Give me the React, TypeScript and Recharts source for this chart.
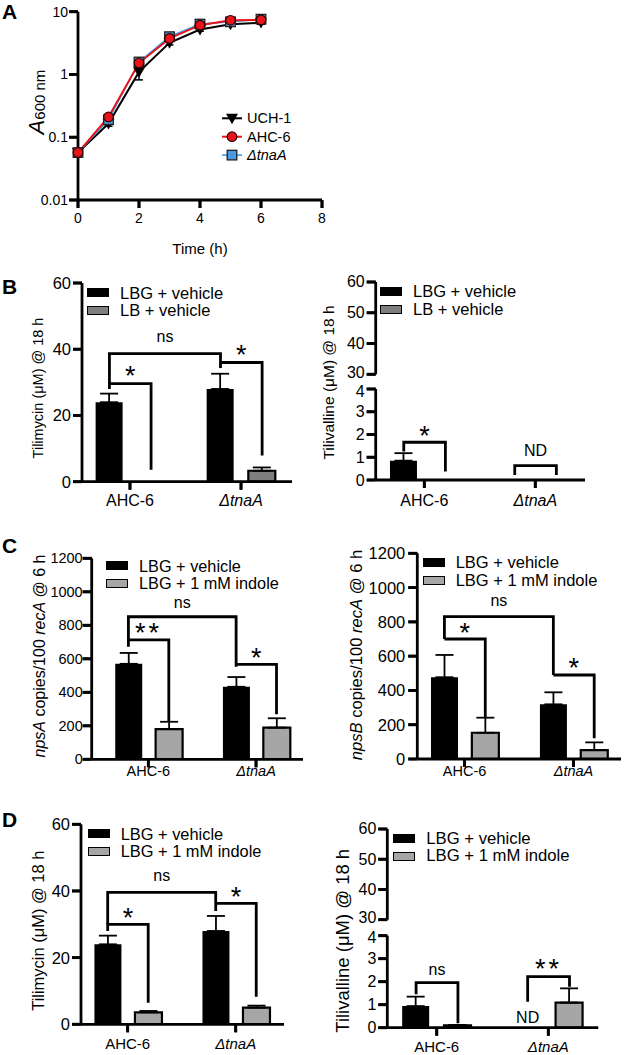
import React from "react";
import {ComposedChart, Line, Bar, ErrorBar, XAxis, YAxis, Legend, ReferenceDot} from "recharts";

const FONT = '"Liberation Sans", Arial, Helvetica, sans-serif';

// ---------- A: growth curves ----------
const hours = [0, 1, 2, 3, 4, 5, 6];
const uch1 = [0.057, 0.165, 1.1, 3.2, 5.2, 6.3, 6.7];
const uch1Err = [0.003, 0.015, 0.28, 0.25, 0.3, 0.4, 0.4];
const ahc6 = [0.057, 0.21, 1.52, 3.75, 6.1, 7.3, 7.4];
const ahc6Err = [0.003, 0.015, 0.12, 0.2, 0.3, 0.3, 0.3];
const tnaA = [0.057, 0.19, 1.58, 4.0, 6.35, 6.9, 7.6];
const tnaAErr = [0.003, 0.01, 0.1, 0.2, 0.2, 0.3, 0.3];

const strains = ["AHC-6", "ΔtnaA"];

// ---------- B ----------
const bTilimycinLBG = [24, 28];
const bTilimycinLBGErr = [2.6, 4.6];
const bTilimycinLB = [0, 3.3];
const bTilimycinLBErr = [null, 1.0];
const bTilivallineLBG = [0.85, 0];
const bTilivallineLBGErr = [0.33, null];
const bTilivallineLB = [0, 0];
const bTilivallineLBErr = [null, null];

// ---------- C ----------
const cNpsAVehicle = [570, 433];
const cNpsAVehicleErr = [65, 58];
const cNpsAIndole = [180, 189];
const cNpsAIndoleErr = [44, 56];
const cNpsBVehicle = [477, 319];
const cNpsBVehicleErr = [130, 70];
const cNpsBIndole = [153, 52];
const cNpsBIndoleErr = [88, 45];

// ---------- D ----------
const dTilimycinVehicle = [24, 28];
const dTilimycinVehicleErr = [2.6, 4.5];
const dTilimycinIndole = [3.6, 5.0];
const dTilimycinIndoleErr = [0.4, 0.6];
const dTilivallineVehicle = [0.94, 0];
const dTilivallineVehicleErr = [0.41, null];
const dTilivallineIndole = [0.1, 1.09];
const dTilivallineIndoleErr = [0.02, 0.62];

const legendB = ["LBG + vehicle", "LB + vehicle"];
const legendCD = ["LBG + vehicle", "LBG + 1 mM indole"];

type Side = "k" | "g";
const K_OFF = -0.185;
const G_OFF = 0.19;
const bx = (cat: number, s: Side) => cat + 1 + (s === "k" ? K_OFF : G_OFF);
const mid = (a: number, b: number) => (a + b) / 2;

interface Bracket { x1: number; x2: number; y1: number; top: number; y2: number }
interface Note { x: number; y: number; text: string }

const bracketsBL: Bracket[] = [
  {x1: bx(0, "k"), x2: bx(0, "g"), y1: 28, top: 29.6, y2: 3.6},
  {x1: bx(0, "k"), x2: bx(1, "k"), y1: 29.6, top: 38.7, y2: 34.3},
  {x1: bx(1, "k"), x2: bx(1, "g"), y1: 36, top: 36, y2: 7.9},
];
const notesBL: Note[] = [
  {x: mid(bx(0, "k"), bx(0, "g")), y: 33.8, text: "*"},
  {x: mid(bx(0, "k"), bx(1, "k")), y: 43.5, text: "ns"},
  {x: mid(bx(1, "k"), bx(1, "g")), y: 40, text: "*"},
];
const bracketsBR: Bracket[] = [
  {x1: bx(0, "k"), x2: bx(0, "g"), y1: 1.25, top: 1.66, y2: 0.37},
  {x1: bx(1, "k"), x2: bx(1, "g"), y1: 0.22, top: 0.63, y2: 0.22},
];
const notesBR: Note[] = [
  {x: mid(bx(0, "k"), bx(0, "g")), y: 2.2, text: "*"},
  {x: mid(bx(1, "k"), bx(1, "g")), y: 1.29, text: "ND"},
];
const bracketsCL: Bracket[] = [
  {x1: bx(0, "k"), x2: bx(0, "g"), y1: 672, top: 713, y2: 224},
  {x1: bx(0, "k"), x2: bx(1, "k"), y1: 713, top: 851, y2: 553},
  {x1: bx(1, "k"), x2: bx(1, "g"), y1: 567, top: 567, y2: 269},
];
const notesCL: Note[] = [
  {x: mid(bx(0, "k"), bx(0, "g")), y: 792, text: "**"},
  {x: mid(bx(0, "k"), bx(1, "k")), y: 931, text: "ns"},
  {x: mid(bx(1, "k"), bx(1, "g")), y: 642, text: "*"},
];
const bracketsCR: Bracket[] = [
  {x1: bx(0, "k"), x2: bx(0, "g"), y1: 700, top: 700, y2: 237},
  {x1: bx(0, "k"), x2: bx(1, "k"), y1: 700, top: 830, y2: 490},
  {x1: bx(1, "k"), x2: bx(1, "g"), y1: 490, top: 490, y2: 121},
];
const notesCR: Note[] = [
  {x: mid(bx(0, "k"), bx(0, "g")), y: 772, text: "*"},
  {x: mid(bx(0, "k"), bx(1, "k")), y: 918, text: "ns"},
  {x: mid(bx(1, "k"), bx(1, "g")), y: 568, text: "*"},
];
const bracketsDL: Bracket[] = [
  {x1: bx(0, "k"), x2: bx(0, "g"), y1: 28, top: 30, y2: 6.5},
  {x1: bx(0, "k"), x2: bx(1, "k"), y1: 30, top: 39.6, y2: 34},
  {x1: bx(1, "k"), x2: bx(1, "g"), y1: 36.3, top: 36.3, y2: 8.3},
];
const notesDL: Note[] = [
  {x: mid(bx(0, "k"), bx(0, "g")), y: 33.6, text: "*"},
  {x: mid(bx(0, "k"), bx(1, "k")), y: 44.3, text: "ns"},
  {x: mid(bx(1, "k"), bx(1, "g")), y: 40, text: "*"},
];
const bracketsDR: Bracket[] = [
  {x1: bx(0, "k"), x2: bx(0, "g"), y1: 1.45, top: 1.96, y2: 0.19},
  {x1: bx(1, "k"), x2: bx(1, "g"), y1: 1.13, top: 2.22, y2: 1.78},
];
const notesDR: Note[] = [
  {x: mid(bx(0, "k"), bx(0, "g")), y: 2.5, text: "ns"},
  {x: mid(bx(1, "k"), bx(1, "g")), y: 2.83, text: "**"},
  {x: bx(1, "k"), y: 0.45, text: "ND"},
];

const AXIS = {stroke: "#000", strokeWidth: 2.8};
const Y_TICK = 9;
const X_TICK = 8;

type Part = {t: string; i?: boolean};
const labTilimycin: Part[] = [{t: "Tilimycin (μM) @ 18 h"}];
const labTilivalline: Part[] = [{t: "Tilivalline (μM) @ 18 h"}];
const labNpsA: Part[] = [{t: "npsA", i: true}, {t: " copies/100 "}, {t: "recA", i: true}, {t: " @ 6 h"}];
const labNpsB: Part[] = [{t: "npsB", i: true}, {t: " copies/100 "}, {t: "recA", i: true}, {t: " @ 6 h"}];

const vLabel = (parts: Part[], cx: number, cy: number, size: number) => () => (
  <text transform={`rotate(-90 ${cx} ${cy})`} x={cx} y={cy} textAnchor="middle" dominantBaseline="central"
        fontSize={size} fontFamily={FONT} fill="#000">
    {parts.map((p, i) => <tspan key={i} fontStyle={p.i ? "italic" : "normal"}>{p.t}</tspan>)}
  </text>
);

const noteLabel = (text: string) => (props: any) => {
  const vb = props.viewBox || {x: 0, y: 0, width: 0, height: 0};
  const cx = vb.x + (vb.width || 0) / 2;
  const cy = vb.y + (vb.height || 0) / 2;
  const star = text.includes("*");
  const size = star ? 27 : 16;
  const dy = star ? size * 0.56 : text === "ND" ? size * 0.36 : size * 0.27;
  return (
    <text x={cx} y={cy + dy} textAnchor="middle" fontSize={size} fontFamily={FONT} fill="#000"
          letterSpacing={star && text.length > 1 ? 3 : 0}>{text}</text>
  );
};

// y tick: tick mark + number, drawn against the known axis position
const YTick = (props: any) => {
  const {y, payload, axisX, fsize, gap, nudgeAt, nudge} = props;
  const ty = payload.value === nudgeAt ? y + (nudge || 0) : y;
  return (
    <g>
      <line x1={axisX - Y_TICK} x2={axisX} y1={y} y2={y} stroke="#000" strokeWidth={2.8}/>
      <text x={axisX - Y_TICK - gap} y={ty} textAnchor="end" dominantBaseline="central"
            fontSize={fsize} fontFamily={FONT} fill="#000">{String(payload.value)}</text>
    </g>
  );
};

// x tick: tick mark + label (category names or numbers)
const XTick = (props: any) => {
  const {x, payload, axisY, fsize, shift, names} = props;
  const name = names ? names[Math.round(payload.value) - 1] : String(payload.value);
  return (
    <g>
      <line x1={x} x2={x} y1={axisY} y2={axisY + X_TICK} stroke="#000" strokeWidth={2.8}/>
      <text x={x} y={axisY + X_TICK + shift} textAnchor="middle" dominantBaseline="central"
            fontSize={fsize} fontFamily={FONT} fill="#000"
            fontStyle={name && name.startsWith("Δ") ? "italic" : "normal"}>{name}</text>
    </g>
  );
};

const SwatchLegend = ({labels, gray, size}: {labels: string[]; gray: string; size: number}) => (
  <div style={{fontFamily: FONT, fontSize: size, color: "#000", whiteSpace: "nowrap"}}>
    {labels.map((l, i) => (
      <div key={i} style={{display: "flex", alignItems: "center", height: 17.8}}>
        <span style={{display: "inline-block", width: 22, height: 9, background: i === 0 ? "#000" : gray,
          border: "1.8px solid #000", boxSizing: "border-box", marginRight: 11}}/>
        <span>{l}</span>
      </div>
    ))}
  </div>
);

const rowsFor = (k: (number | null)[], kErr: (number | null)[], g: (number | null)[], gErr: (number | null)[]) =>
  strains.flatMap((_, i) => [
    {x: bx(i, "k"), k: k[i], kErr: kErr[i] == null ? undefined : [0, kErr[i]]},
    {x: bx(i, "g"), g: g[i], gErr: gErr[i] == null ? undefined : [0, gErr[i]]},
  ]);

interface PanelProps {
  x0: number; boxTop: number; axisX: number; right: number; plotTop: number; plotBottom: number;
  xDomain: [number, number]; yDomain: [number, number]; yTicks: number[];
  k: (number | null)[]; kErr: (number | null)[]; g: (number | null)[]; gErr: (number | null)[];
  gray: string; brackets: Bracket[]; notes: Note[];
  legend: string[]; legendAt: [number, number]; legendSize: number;
  label: Part[]; labelAt: [number, number]; labelSize: number;
  tickSize: number; tickGap: number; catSize: number; catShift: number;
  topNudge?: number;
}

const BarPanel = (p: PanelProps) => {
  const rows = rowsFor(p.k, p.kErr, p.g, p.gErr);
  const width = p.right + 4 - p.x0;
  const xAxisH = 40;
  const height = p.plotBottom + xAxisH - p.boxTop;
  return (
    <div style={{position: "absolute", left: p.x0, top: p.boxTop}}>
      <ComposedChart width={width} height={height} data={rows}
                     margin={{top: p.plotTop - p.boxTop, right: 4, bottom: 0, left: 0}}>
        <XAxis type="number" dataKey="x" domain={p.xDomain} ticks={[1, 2]} interval={0} allowDataOverflow
               height={xAxisH} axisLine={AXIS} tickLine={AXIS} tickSize={X_TICK}
               tick={<XTick axisY={p.plotBottom - p.boxTop} fsize={p.catSize} shift={p.catShift} names={strains}/>}/>
        <YAxis type="number" domain={p.yDomain} ticks={p.yTicks} interval={0} allowDataOverflow width={p.axisX - p.x0}
               axisLine={AXIS} tickLine={AXIS} tickSize={Y_TICK}
               tick={<YTick axisX={p.axisX - p.x0} fsize={p.tickSize} gap={p.tickGap}
                            nudgeAt={p.yDomain[1]} nudge={p.topNudge || 0}/>}
               label={vLabel(p.label, p.labelAt[0] - p.x0, p.labelAt[1] - p.boxTop, p.labelSize)}/>
        <Bar dataKey="k" stackId="s" fill="#000" barSize={27} isAnimationActive={false}>
          <ErrorBar dataKey="kErr" width={9} stroke="#000" strokeWidth={1.8}/>
        </Bar>
        <Bar dataKey="g" stackId="s" fill={p.gray} stroke="#000" strokeWidth={2.2} barSize={27}
             isAnimationActive={false}>
          <ErrorBar dataKey="gErr" width={9} stroke="#000" strokeWidth={1.8}/>
        </Bar>
        {p.brackets.map((b, i) => (
          <Line key={`br${i}`} data={[{x: b.x1, y: b.y1}, {x: b.x1, y: b.top}, {x: b.x2, y: b.top}, {x: b.x2, y: b.y2}]}
                dataKey="y" type="linear" stroke="#000" strokeWidth={2.8} dot={false} activeDot={false}
                legendType="none" isAnimationActive={false} strokeLinejoin="miter"/>
        ))}
        {p.notes.map((n, i) => (
          <ReferenceDot key={`n${i}`} x={n.x} y={n.y} r={0} fill="none" stroke="none" ifOverflow="visible"
                        label={noteLabel(n.text)}/>
        ))}
        <Legend layout="horizontal" verticalAlign="middle" align="center"
                wrapperStyle={{left: p.legendAt[0] - p.x0, top: p.legendAt[1] - p.boxTop, width: "auto", height: "auto"}}
                content={() => <SwatchLegend labels={p.legend} gray={p.gray} size={p.legendSize}/>}/>
      </ComposedChart>
    </div>
  );
};

// upper part of a broken y axis
const UpperAxis = ({x0, axisX, right, plotTop, plotBottom, xDomain, tickSize}:
                     {x0: number; axisX: number; right: number; plotTop: number; plotBottom: number;
                       xDomain: [number, number]; tickSize: number}) => (
  <div style={{position: "absolute", left: x0, top: plotTop - 12}}>
    <ComposedChart width={right + 4 - x0} height={plotBottom + 16 - (plotTop - 12)} data={[{x: 1, v: 30}]}
                   margin={{top: 12, right: 4, bottom: 16, left: 0}}>
      <XAxis type="number" dataKey="x" domain={xDomain} hide/>
      <YAxis type="number" domain={[30, 60]} ticks={[30, 40, 50, 60]} interval={0} allowDataOverflow width={axisX - x0}
             axisLine={AXIS} tickLine={AXIS} tickSize={Y_TICK}
             tick={<YTick axisX={axisX - x0} fsize={tickSize} gap={2} nudgeAt={30} nudge={-2}/>}/>
    </ComposedChart>
  </div>
);

// ---------- A helpers ----------
const growthRows = hours.map((t, i) => ({
  t, uch1: uch1[i], uch1Err: uch1Err[i], ahc6: ahc6[i], ahc6Err: ahc6Err[i], tnaA: tnaA[i], tnaAErr: tnaAErr[i],
}));

const marker = (shape: string, cx: number, cy: number, key?: string | number) => {
  if (shape === "tri") {
    return <polygon key={key} points={`${cx - 6},${cy - 4.5} ${cx + 6},${cy - 4.5} ${cx},${cy + 6}`} fill="#000"/>;
  }
  if (shape === "circle") {
    return <circle key={key} cx={cx} cy={cy} r={4.8} fill="#e8141b" stroke="#300" strokeWidth={1.2}/>;
  }
  return <rect key={key} x={cx - 4.8} y={cy - 4.8} width={9.6} height={9.6} fill="#4a9be0" stroke="#222" strokeWidth={1.3}/>;
};

const growthSeries = [
  {name: "UCH-1", color: "#000", shape: "tri", italic: false, width: 2},
  {name: "AHC-6", color: "#e8141b", shape: "circle", italic: false, width: 2},
  {name: "ΔtnaA", color: "#3aa0e8", shape: "square", italic: true, width: 1.6},
];

const GrowthLegend = () => (
  <svg width={110} height={60} style={{display: "block"}}>
    {growthSeries.map((s, i) => {
      const cy = 9.3 + i * 18.4;
      return (
        <g key={s.name}>
          <line x1={6} x2={26} y1={cy} y2={cy} stroke={s.color} strokeWidth={s.width}/>
          {marker(s.shape, 16, cy)}
          <text x={31} y={cy} dominantBaseline="central" fontSize={14.5} fontFamily={FONT} fill="#000"
                fontStyle={s.italic ? "italic" : "normal"}>{s.name}</text>
        </g>
      );
    })}
  </svg>
);

const growthLabel = () => (
  <text transform="rotate(-90 36 102)" x={36} y={102} textAnchor="middle" dominantBaseline="central"
        fontFamily={FONT} fill="#000">
    <tspan fontSize={22} fontStyle="italic">A</tspan>
    <tspan fontSize={15} dy={3}>600 nm</tspan>
  </text>
);

const PanelA = () => (
  <div style={{position: "absolute", left: 0, top: 0}}>
    <ComposedChart width={330} height={258} data={growthRows} margin={{top: 11.7, right: 8, bottom: 0, left: 0}}>
      <XAxis type="number" dataKey="t" domain={[0, 8]} ticks={[0, 2, 4, 6, 8]} interval={0} height={58}
             axisLine={AXIS} tickLine={AXIS} tickSize={X_TICK}
             tick={<XTick axisY={200} fsize={14} shift={10}/>}
             label={{value: "Time (h)", position: "insideBottom", offset: 4, fill: "#000", fontSize: 15, fontFamily: FONT}}/>
      <YAxis type="number" scale="log" domain={[0.01, 10]} ticks={[0.01, 0.1, 1, 10]} interval={0} allowDataOverflow
             width={78} axisLine={AXIS} tickLine={AXIS} tickSize={Y_TICK}
             tick={<YTick axisX={78} fsize={14} gap={1}/>} label={growthLabel}/>
      <Line dataKey="uch1" stroke="#000" strokeWidth={2} isAnimationActive={false}
            dot={(d: any) => marker("tri", d.cx, d.cy, d.index)}>
        <ErrorBar dataKey="uch1Err" width={4} stroke="#000" strokeWidth={1.5}/>
      </Line>
      <Line dataKey="tnaA" stroke="#3aa0e8" strokeWidth={1.6} isAnimationActive={false}
            dot={(d: any) => marker("square", d.cx, d.cy, d.index)}>
        <ErrorBar dataKey="tnaAErr" width={4} stroke="#222" strokeWidth={1.2}/>
      </Line>
      <Line dataKey="ahc6" stroke="#e8141b" strokeWidth={2} isAnimationActive={false}
            dot={(d: any) => marker("circle", d.cx, d.cy, d.index)}>
        <ErrorBar dataKey="ahc6Err" width={4} stroke="#300" strokeWidth={1.2}/>
      </Line>
      <Legend layout="horizontal" verticalAlign="middle" align="center"
              wrapperStyle={{left: 216, top: 109, width: "auto", height: "auto"}} content={() => <GrowthLegend/>}/>
    </ComposedChart>
  </div>
);

const letters = [
  {t: "A", x: 2, y: 18.5},
  {t: "B", x: 2, y: 294},
  {t: "C", x: 2, y: 553},
  {t: "D", x: 2, y: 827},
];

export default function App() {
  return (
    <div style={{position: "absolute", left: 0, top: 0, width: 625, height: 1055, overflow: "hidden", background: "#fff"}}>
      <PanelA/>

      <BarPanel x0={16} boxTop={262} axisX={82} right={292} plotTop={283} plotBottom={481.7}
                xDomain={[0.568, 2.459]} yDomain={[0, 60]} yTicks={[0, 20, 40, 60]}
                k={bTilimycinLBG} kErr={bTilimycinLBGErr} g={bTilimycinLB} gErr={bTilimycinLBErr}
                gray="#7f7f7f" brackets={bracketsBL} notes={notesBL}
                legend={legendB} legendAt={[87, 284.1]} legendSize={16.5}
                label={labTilimycin} labelAt={[38, 388]} labelSize={14.5}
                tickSize={16.5} tickGap={2} catSize={16} catShift={11}/>

      <UpperAxis x0={312} axisX={375.7} right={585} plotTop={281.7} plotBottom={374}
                 xDomain={[0.562, 2.448]} tickSize={16}/>
      <BarPanel x0={312} boxTop={262} axisX={375.7} right={585} plotTop={389} plotBottom={480}
                xDomain={[0.562, 2.448]} yDomain={[0, 4]} yTicks={[0, 1, 2, 3, 4]}
                k={bTilivallineLBG} kErr={bTilivallineLBGErr} g={bTilivallineLB} gErr={bTilivallineLBErr}
                gray="#7f7f7f" brackets={bracketsBR} notes={notesBR}
                legend={legendB} legendAt={[380, 282.8]} legendSize={16.5}
                label={labTilivalline} labelAt={[328, 382.5]} labelSize={15.5}
                tickSize={16} tickGap={2} catSize={16} catShift={12} topNudge={2}/>

      <BarPanel x0={16} boxTop={522} axisX={91.7} right={303} plotTop={558.3} plotBottom={759.3}
                xDomain={[0.474, 2.436]} yDomain={[0, 1200]} yTicks={[0, 200, 400, 600, 800, 1000, 1200]}
                k={cNpsAVehicle} kErr={cNpsAVehicleErr} g={cNpsAIndole} gErr={cNpsAIndoleErr}
                gray="#a6a6a6" brackets={bracketsCL} notes={notesCL}
                legend={legendCD} legendAt={[106, 557.1]} legendSize={16.3}
                label={labNpsA} labelAt={[39, 656]} labelSize={16}
                tickSize={14.5} tickGap={0} catSize={14.5} catShift={4}/>

      <BarPanel x0={312} boxTop={522} axisX={417.3} right={621} plotTop={553.3} plotBottom={759}
                xDomain={[0.566, 2.436]} yDomain={[0, 1200]} yTicks={[0, 200, 400, 600, 800, 1000, 1200]}
                k={cNpsBVehicle} kErr={cNpsBVehicleErr} g={cNpsBIndole} gErr={cNpsBIndoleErr}
                gray="#a6a6a6" brackets={bracketsCR} notes={notesCR}
                legend={legendCD} legendAt={[422.7, 553.4]} legendSize={16.5}
                label={labNpsB} labelAt={[355.7, 655]} labelSize={16.6}
                tickSize={16.5} tickGap={3} catSize={14.5} catShift={4}/>

      <BarPanel x0={16} boxTop={800} axisX={81} right={284} plotTop={824.3} plotBottom={1024.3}
                xDomain={[0.568, 2.447]} yDomain={[0, 60]} yTicks={[0, 20, 40, 60]}
                k={dTilimycinVehicle} kErr={dTilimycinVehicleErr} g={dTilimycinIndole} gErr={dTilimycinIndoleErr}
                gray="#a6a6a6" brackets={bracketsDL} notes={notesDL}
                legend={legendCD} legendAt={[87.7, 825.1]} legendSize={16.4}
                label={labTilimycin} labelAt={[38.3, 930.7]} labelSize={16.5}
                tickSize={16.5} tickGap={2} catSize={15} catShift={11}/>

      <UpperAxis x0={312} axisX={387.3} right={598.3} plotTop={829.3} plotBottom={920}
                 xDomain={[0.557, 2.448]} tickSize={16}/>
      <BarPanel x0={312} boxTop={800} axisX={387.3} right={598.3} plotTop={935.7} plotBottom={1027.7}
                xDomain={[0.557, 2.448]} yDomain={[0, 4]} yTicks={[0, 1, 2, 3, 4]}
                k={dTilivallineVehicle} kErr={dTilivallineVehicleErr} g={dTilivallineIndole} gErr={dTilivallineIndoleErr}
                gray="#a6a6a6" brackets={bracketsDR} notes={notesDR}
                legend={legendCD} legendAt={[393.3, 829.6]} legendSize={16.7}
                label={labTilivalline} labelAt={[342.5, 940.8]} labelSize={18.5}
                tickSize={16} tickGap={2} catSize={15} catShift={11} topNudge={2}/>

      <svg width={625} height={1055} style={{position: "absolute", left: 0, top: 0, pointerEvents: "none"}}>
        {letters.map((l) => (
          <text key={l.t} x={l.x} y={l.y} fontSize={21} fontWeight="bold" fontFamily={FONT} fill="#000">{l.t}</text>
        ))}
      </svg>
    </div>
  );
}
